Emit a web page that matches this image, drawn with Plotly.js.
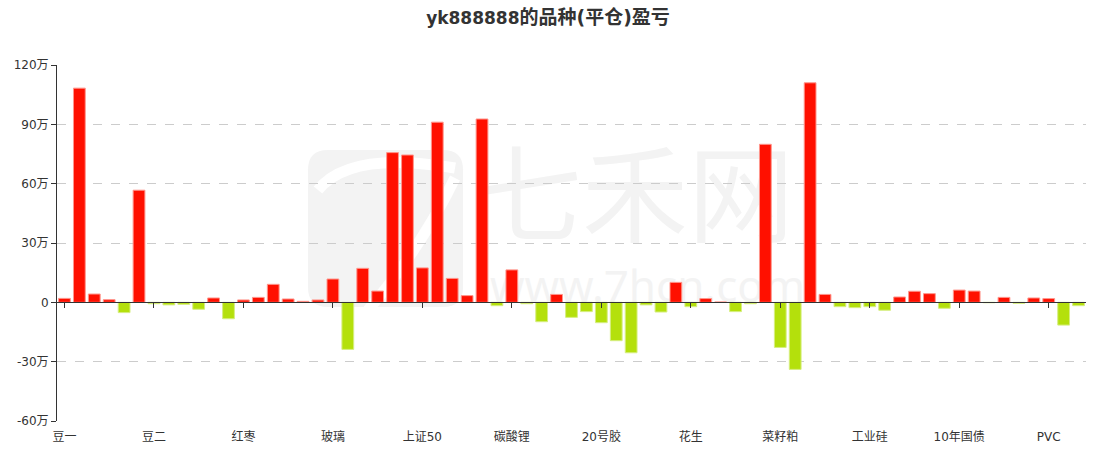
<!DOCTYPE html>
<html>
<head>
<meta charset="utf-8">
<script src="https://cdn.plot.ly/plotly-3.0.1.min.js"></script>
<style>
  html, body { margin: 0; padding: 0; background: #fff; }
  #chart { width: 1096px; height: 451px; }
</style>
</head>
<body>
<div id="chart"></div>
<script>
// ---- data (values in 元) ----
const categories = [
  "豆一","品种2","品种3","品种4","品种5","品种6",
  "豆二","品种8","品种9","品种10","品种11","品种12",
  "红枣","品种14","品种15","品种16","品种17","品种18",
  "玻璃","品种20","品种21","品种22","品种23","品种24",
  "上证50","品种26","品种27","品种28","品种29","品种30",
  "碳酸锂","品种32","品种33","品种34","品种35","品种36",
  "20号胶","品种38","品种39","品种40","品种41","品种42",
  "花生","品种44","品种45","品种46","品种47","品种48",
  "菜籽粕","品种50","品种51","品种52","品种53","品种54",
  "工业硅","品种56","品种57","品种58","品种59","品种60",
  "10年国债","品种62","品种63","品种64","品种65","品种66",
  "PVC","品种68","品种69"
];
const tickLabels = ["豆一","豆二","红枣","玻璃","上证50","碳酸锂","20号胶","花生","菜籽粕","工业硅","10年国债","PVC"];
const profit = [
  20000, 1083000, 42000, 13500, -52000, 567000, -7000, -13000, -10000, -35000,
  22000, -83000, 12000, 25000, 91000, 17000, 5000, 12000, 118000, -238000,
  172000, 57000, 757000, 745000, 174000, 911000, 121000, 34000, 927000, -17000,
  164000, -7000, -98000, 40000, -76000, -47000, -103000, -194000, -255000, -13000,
  -49000, 101000, -22000, 19000, 2000, -47000, -7000, 799000, -228000, -339000,
  1110000, 40000, -22000, -27000, -22000, -40000, 27000, 56000, 44000, -30000,
  62000, 57000, -2000, 25000, -5000, 22000, 19000, -115000, -17000
];
const yTickVals = [-600000, -300000, 0, 300000, 600000, 900000, 1200000];
const yTickText = ["-60万", "-30万", "0", "30万", "60万", "90万", "120万"];

// ---- build ----
const xIdx = categories.map((_, i) => i);
const tickIdx = tickLabels.map(n => categories.indexOf(n));
const RED = "#ff1000", GREEN = "#b4e00c";
const fillColors = profit.map(v => v >= 0 ? RED : GREEN);
const lineColors = profit.map(v => v >= 0 ? "rgba(255,150,140,1)" : "rgba(214,238,128,1)");

const yRange = [-600000, 1200000];
const zeroPos = (0 - yRange[0]) / (yRange[1] - yRange[0]);
const xRange = [-0.5, categories.length - 0.5];

// watermark helpers (pixel -> paper), plot area l=57 t=65 w=1029 h=356
const PL = 57, PT = 65, PW = 1029, PH = 356;
const px = X => ((X - PL) / PW).toFixed(4);
const py = Y => ((PT + PH - Y) / PH).toFixed(4);
const WM = "#f3f3f3";

const logoRect = `M ${px(328)} ${py(150)} L ${px(443)} ${py(150)} Q ${px(463)} ${py(150)} ${px(463)} ${py(170)} ` +
  `L ${px(463)} ${py(287)} Q ${px(463)} ${py(307)} ${px(443)} ${py(307)} L ${px(328)} ${py(307)} ` +
  `Q ${px(308)} ${py(307)} ${px(308)} ${py(287)} L ${px(308)} ${py(170)} Q ${px(308)} ${py(150)} ${px(328)} ${py(150)} Z`;
const logoArc = `M ${px(318)} ${py(190)} Q ${px(350)} ${py(150)} ${px(455)} ${py(168)}`;
const logoDiag = `M ${px(455)} ${py(178)} Q ${px(420)} ${py(250)} ${px(368)} ${py(310)}`;

const shapes = [
  { type: "path", xref: "paper", yref: "paper", path: logoRect, fillcolor: WM, line: { width: 0 }, layer: "below" },
  { type: "path", xref: "paper", yref: "paper", path: logoArc, line: { color: "#ffffff", width: 11 }, layer: "below" },
  { type: "path", xref: "paper", yref: "paper", path: logoDiag, line: { color: "#ffffff", width: 11 }, layer: "below" },
  { type: "rect", xref: "paper", yref: "paper", x0: px(470), x1: px(800), y0: py(255), y1: py(155),
    line: { width: 0 }, fillcolor: "rgba(0,0,0,0)", layer: "below",
    label: { text: "七禾网", font: { family: "Noto Sans CJK SC", size: 106, color: WM }, textposition: "middle center" } },
  { type: "rect", xref: "paper", yref: "paper", x0: px(480), x1: px(815), y0: py(305), y1: py(270),
    line: { width: 0 }, fillcolor: "rgba(0,0,0,0)", layer: "below",
    label: { text: "www.7hcn.com", font: { family: "Noto Sans", size: 44, color: WM }, textposition: "middle center" } }
];

const FONT = "DejaVu Sans, Noto Sans CJK SC, sans-serif";

const trace = {
  type: "bar",
  x: xIdx,
  y: profit,
  text: categories,
  hovertemplate: "%{text}: %{y}<extra></extra>",
  textposition: "none",
  marker: { color: fillColors, line: { color: lineColors, width: 1 } }
};

const layout = {
  width: 1096,
  height: 451,
  margin: { l: PL, r: 10, t: PT, b: 30 },
  paper_bgcolor: "#ffffff",
  plot_bgcolor: "#ffffff",
  showlegend: false,
  bargap: 0.21,
  font: { family: FONT, size: 12, color: "#333" },
  title: {
    text: "yk888888<span style='font-size:19px'>的品种(平仓)盈亏</span>",
    font: { family: FONT, size: 17, color: "#333", weight: "bold" },
    x: 0.5, xanchor: "center",
    y: 1 - 18 / 451, yanchor: "middle", yref: "container"
  },
  xaxis: {
    type: "linear",
    range: xRange,
    anchor: "free",
    position: zeroPos,
    showline: true,
    linecolor: "#333",
    linewidth: 1,
    ticks: "outside",
    ticklen: 5,
    tickcolor: "#333",
    tickmode: "array",
    tickvals: tickIdx,
    ticktext: tickLabels,
    showticklabels: false,
    showgrid: false,
    zeroline: false,
    fixedrange: true
  },
  xaxis2: {
    type: "linear",
    overlaying: "x",
    anchor: "y",
    side: "bottom",
    range: xRange,
    showline: false,
    ticks: "outside",
    ticklen: 5,
    tickcolor: "rgba(0,0,0,0)",
    tickmode: "array",
    tickvals: tickIdx,
    ticktext: tickLabels,
    tickfont: { family: FONT, size: 12, color: "#333" },
    showgrid: false,
    zeroline: false,
    fixedrange: true
  },
  yaxis: {
    range: yRange,
    tickmode: "array",
    tickvals: yTickVals,
    ticktext: yTickText,
    showline: true,
    linecolor: "#333",
    linewidth: 1,
    ticks: "outside",
    ticklen: 5,
    tickcolor: "#333",
    tickfont: { family: FONT, size: 12, color: "#333" },
    showgrid: true,
    gridcolor: "#cccccc",
    griddash: "dash",
    gridwidth: 1,
    zeroline: false,
    fixedrange: true
  },
  shapes: shapes
};

const dummy = { type: "scatter", x: [xRange[0]], y: [null], xaxis: "x2", yaxis: "y", mode: "markers", hoverinfo: "skip", showlegend: false };

Plotly.newPlot("chart", [trace, dummy], layout, { displayModeBar: false, staticPlot: false });
</script>
</body>
</html>
